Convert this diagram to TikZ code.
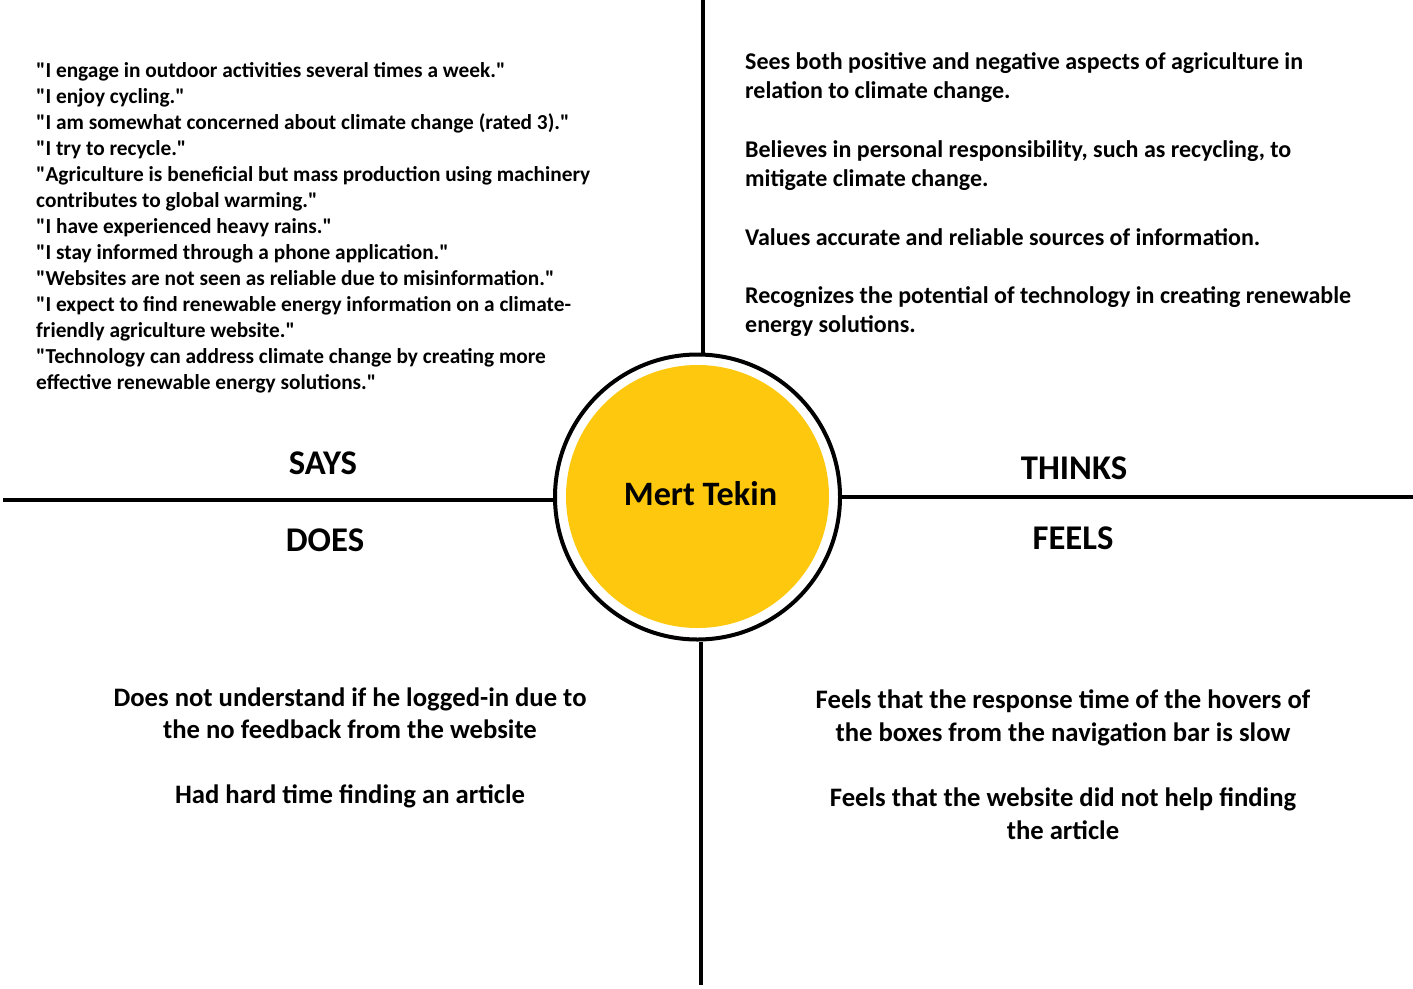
\documentclass[tikz,border=0pt]{standalone}
\usepackage{fontspec}
\setmainfont{Carlito}[BoldFont={Carlito Bold},Ligatures=TeXOff]
\definecolor{ymk}{HTML}{FDC80E}
\begin{document}
\begin{tikzpicture}[x=1pt,y=-1pt,
  divider/.style={line width=4pt, line cap=butt},
  quadtitle/.style={font=\bfseries\fontsize{34.67}{34.67}\selectfont, inner sep=0pt},
  blocktext/.style={inner sep=0pt}]
\useasboundingbox (0,0) rectangle (1413,988);
% centre
\node[circle, fill=ymk, minimum size=263pt, inner sep=0pt] (disk) at (697.5,496.5) {};
\node[circle, draw, line width=4pt, minimum size=285pt, inner sep=0pt] (ring) at (697.5,497) {};
\node[font=\bfseries\fontsize{34.2}{34.2}\selectfont, inner sep=0pt] (name) at (700.5,494) {Mert Tekin};
% dividers
\coordinate (top) at (702.5,0);
\coordinate (bot) at (700.5,985);
\coordinate (lft) at (3,499.5);
\coordinate (rgt) at (1413,496.5);
\draw[divider] (top) -- (top |- ring.north);
\draw[divider] (bot) -- (bot |- ring.south);
\draw[divider] (lft) -- (lft -| ring.west);
\draw[divider] (rgt) -- (rgt -| ring.east);
% titles
\node[quadtitle] (says) at (323,463) {SAYS};
\node[quadtitle] (does) at (325,540) {DOES};
\node[quadtitle] (thinks) at (1074,468) {THINKS};
\node[quadtitle] (feels) at (1073,538) {FEELS};
% says
\node[blocktext, anchor=west, align=left, font=\bfseries\fontsize{21.33}{26}\selectfont] (saystext) at (36,228) {%
"I engage in outdoor activities several times a week."\\
"I enjoy cycling."\\
"I am somewhat concerned about climate change (rated 3)."\\
"I try to recycle."\\
"Agriculture is beneficial but mass production using machinery\\
contributes to global warming."\\
"I have experienced heavy rains."\\
"I stay informed through a phone application."\\
"Websites are not seen as reliable due to misinformation."\\
"I expect to find renewable energy information on a climate-\\
friendly agriculture website."\\
"Technology can address climate change by creating more\\
effective renewable energy solutions."};
% thinks
\node[blocktext, anchor=west, align=left, font=\bfseries\fontsize{24}{29}\selectfont] (thinkstext) at (745,195) {%
Sees both positive and negative aspects of agriculture in\\
relation to climate change.\\[30pt]
Believes in personal responsibility, such as recycling, to\\
mitigate climate change.\\[30pt]
Values accurate and reliable sources of information.\\[29pt]
Recognizes the potential of technology in creating renewable\\
energy solutions.};
% does
\node[blocktext, align=center, font=\bfseries\fontsize{26.67}{32}\selectfont] (doestext) at (350,747.5) {%
Does not understand if he logged-in due to\\
the no feedback from the website\\[33pt]
Had hard time finding an article};
% feels
\node[blocktext, align=center, font=\bfseries\fontsize{26.67}{33}\selectfont] (feelstext) at (1063,764.5) {%
Feels that the response time of the hovers of\\
the boxes from the navigation bar is slow\\[32pt]
Feels that the website did not help finding\\
the article};
\end{tikzpicture}
\end{document}
